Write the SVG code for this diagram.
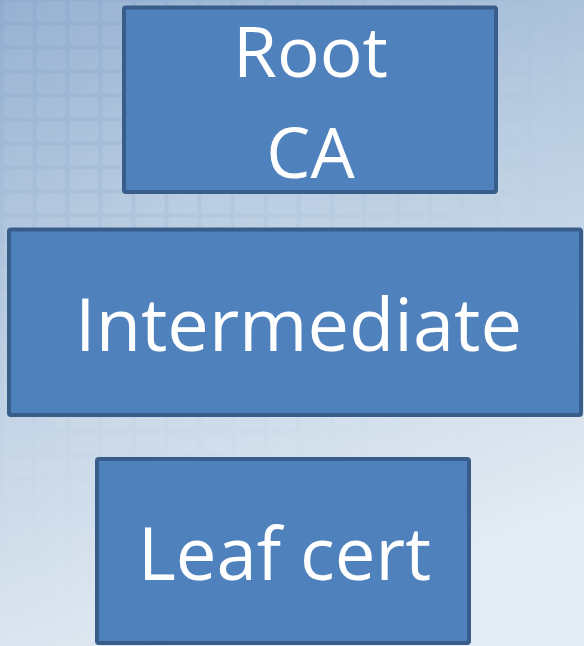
<svg xmlns="http://www.w3.org/2000/svg" width="584" height="646" viewBox="0 0 584 646">
  <defs>
    <linearGradient id="bg" x1="0" y1="0" x2="0.35" y2="1">
      <stop offset="0" stop-color="#8eabcf"/>
      <stop offset="0.45" stop-color="#b7cbe0"/>
      <stop offset="1" stop-color="#e3ebf3"/>
    </linearGradient>
    <pattern id="grid" x="2" y="0" width="33" height="24" patternUnits="userSpaceOnUse">
      <rect x="1.5" y="1.5" width="29" height="20" rx="2" fill="#ffffff" fill-opacity="0.13"/>
    </pattern>
    <radialGradient id="gm" cx="0.3" cy="0.3" r="0.7">
      <stop offset="0" stop-color="#fff" stop-opacity="1"/>
      <stop offset="1" stop-color="#fff" stop-opacity="0.2"/>
    </radialGradient>
    <mask id="gridmask">
      <rect width="584" height="646" fill="url(#gm)"/>
    </mask>
  </defs>
  <style>
    .box { fill: #4f81bd; stroke: #385d8a; stroke-width: 4; }
    .lbl { fill: #ffffff; font-family: "Open Sans", "Liberation Sans", sans-serif; font-size: 73px; text-anchor: middle; }
    .sm { font-size: 70px; }
  </style>
  <rect width="584" height="646" fill="url(#bg)"/>
  <rect width="584" height="646" fill="url(#grid)" mask="url(#gridmask)"/>
  <g id="connectors"></g>
  <g id="root-ca">
    <rect class="box" x="124" y="7.5" width="372" height="184.5" rx="2"/>
    <text class="lbl sm" x="310.5" y="77" textLength="155" lengthAdjust="spacingAndGlyphs">Root</text>
    <text class="lbl sm" x="310.5" y="178">CA</text>
  </g>
  <g id="intermediate">
    <rect class="box" x="9" y="229.5" width="572" height="185.5" rx="2"/>
    <text class="lbl" x="298.5" y="351" textLength="447" lengthAdjust="spacingAndGlyphs">Intermediate</text>
  </g>
  <g id="leaf-cert">
    <rect class="box" x="97" y="459" width="372" height="184" rx="2"/>
    <text class="lbl" x="284.5" y="580" textLength="293" lengthAdjust="spacingAndGlyphs">Leaf cert</text>
  </g>
</svg>
